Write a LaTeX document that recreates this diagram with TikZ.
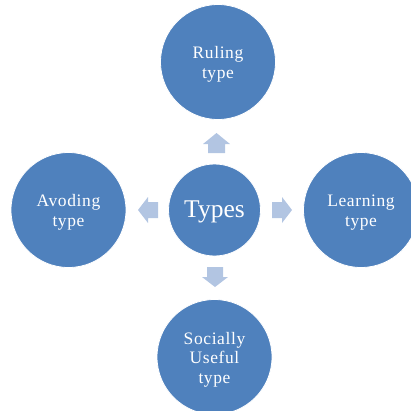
\documentclass[tikz,border=0pt]{standalone}
\usepackage{fontspec}
\setmainfont{Liberation Serif}
\newfontfamily\labelfont[LetterSpace=3.5]{Liberation Serif}
\definecolor{circblue}{HTML}{4F81BD}
\definecolor{arrblue}{HTML}{B2C5E2}
\begin{document}
\begin{tikzpicture}[x=1pt,y=-1pt,
  typecirc/.style={circle,fill=circblue,draw=white,line width=0.8pt,inner sep=0pt,minimum size=#1},
  typetext/.style={text=white,align=center,font=\labelfont\fontsize{17.5}{19.5}\selectfont},
  blockarrow/.style={fill=arrblue,draw=none}]
\useasboundingbox (0,0) rectangle (411,410);
\node[typecirc=115pt] (ruling) at (218,62) {};
\node[typecirc=115pt] (avoding) at (68.5,210) {};
\node[typecirc=115pt] (learning) at (361,210) {};
\node[typecirc=115pt] (social) at (214.5,357) {};
\node[typecirc=92pt] (types) at (214.5,210) {};
\node[typetext] (rulingtxt) at ([yshift=-2.5pt]ruling.center) {Ruling\\type};
\node[typetext] (avodingtxt) at ([yshift=-2.5pt]avoding.center) {Avoding\\type};
\node[typetext] (learningtxt) at ([yshift=-2.5pt]learning.center) {Learning\\type};
\node[typetext] (socialtxt) at ([yshift=-2.5pt]social.center) {Socially\\Useful\\type};
\node[text=white,font=\fontsize{25.5}{28}\selectfont] (typestxt) at ([yshift=-2pt]types.center) {Types};
% block arrows
\fill[blockarrow] (216.5,133) -- (230,144) -- (225,144) -- (225,153) -- (208,153) -- (208,144) -- (203,144) -- cycle;
\fill[blockarrow] (215,287) -- (228,277) -- (223,277) -- (223,267) -- (207,267) -- (207,277) -- (202,277) -- cycle;
\fill[blockarrow] (292,210) -- (282,197) -- (282,202) -- (272,202) -- (272,218) -- (282,218) -- (282,223) -- cycle;
\fill[blockarrow] (138,210) -- (148,197) -- (148,202) -- (158,202) -- (158,218) -- (148,218) -- (148,223) -- cycle;
\end{tikzpicture}
\end{document}
